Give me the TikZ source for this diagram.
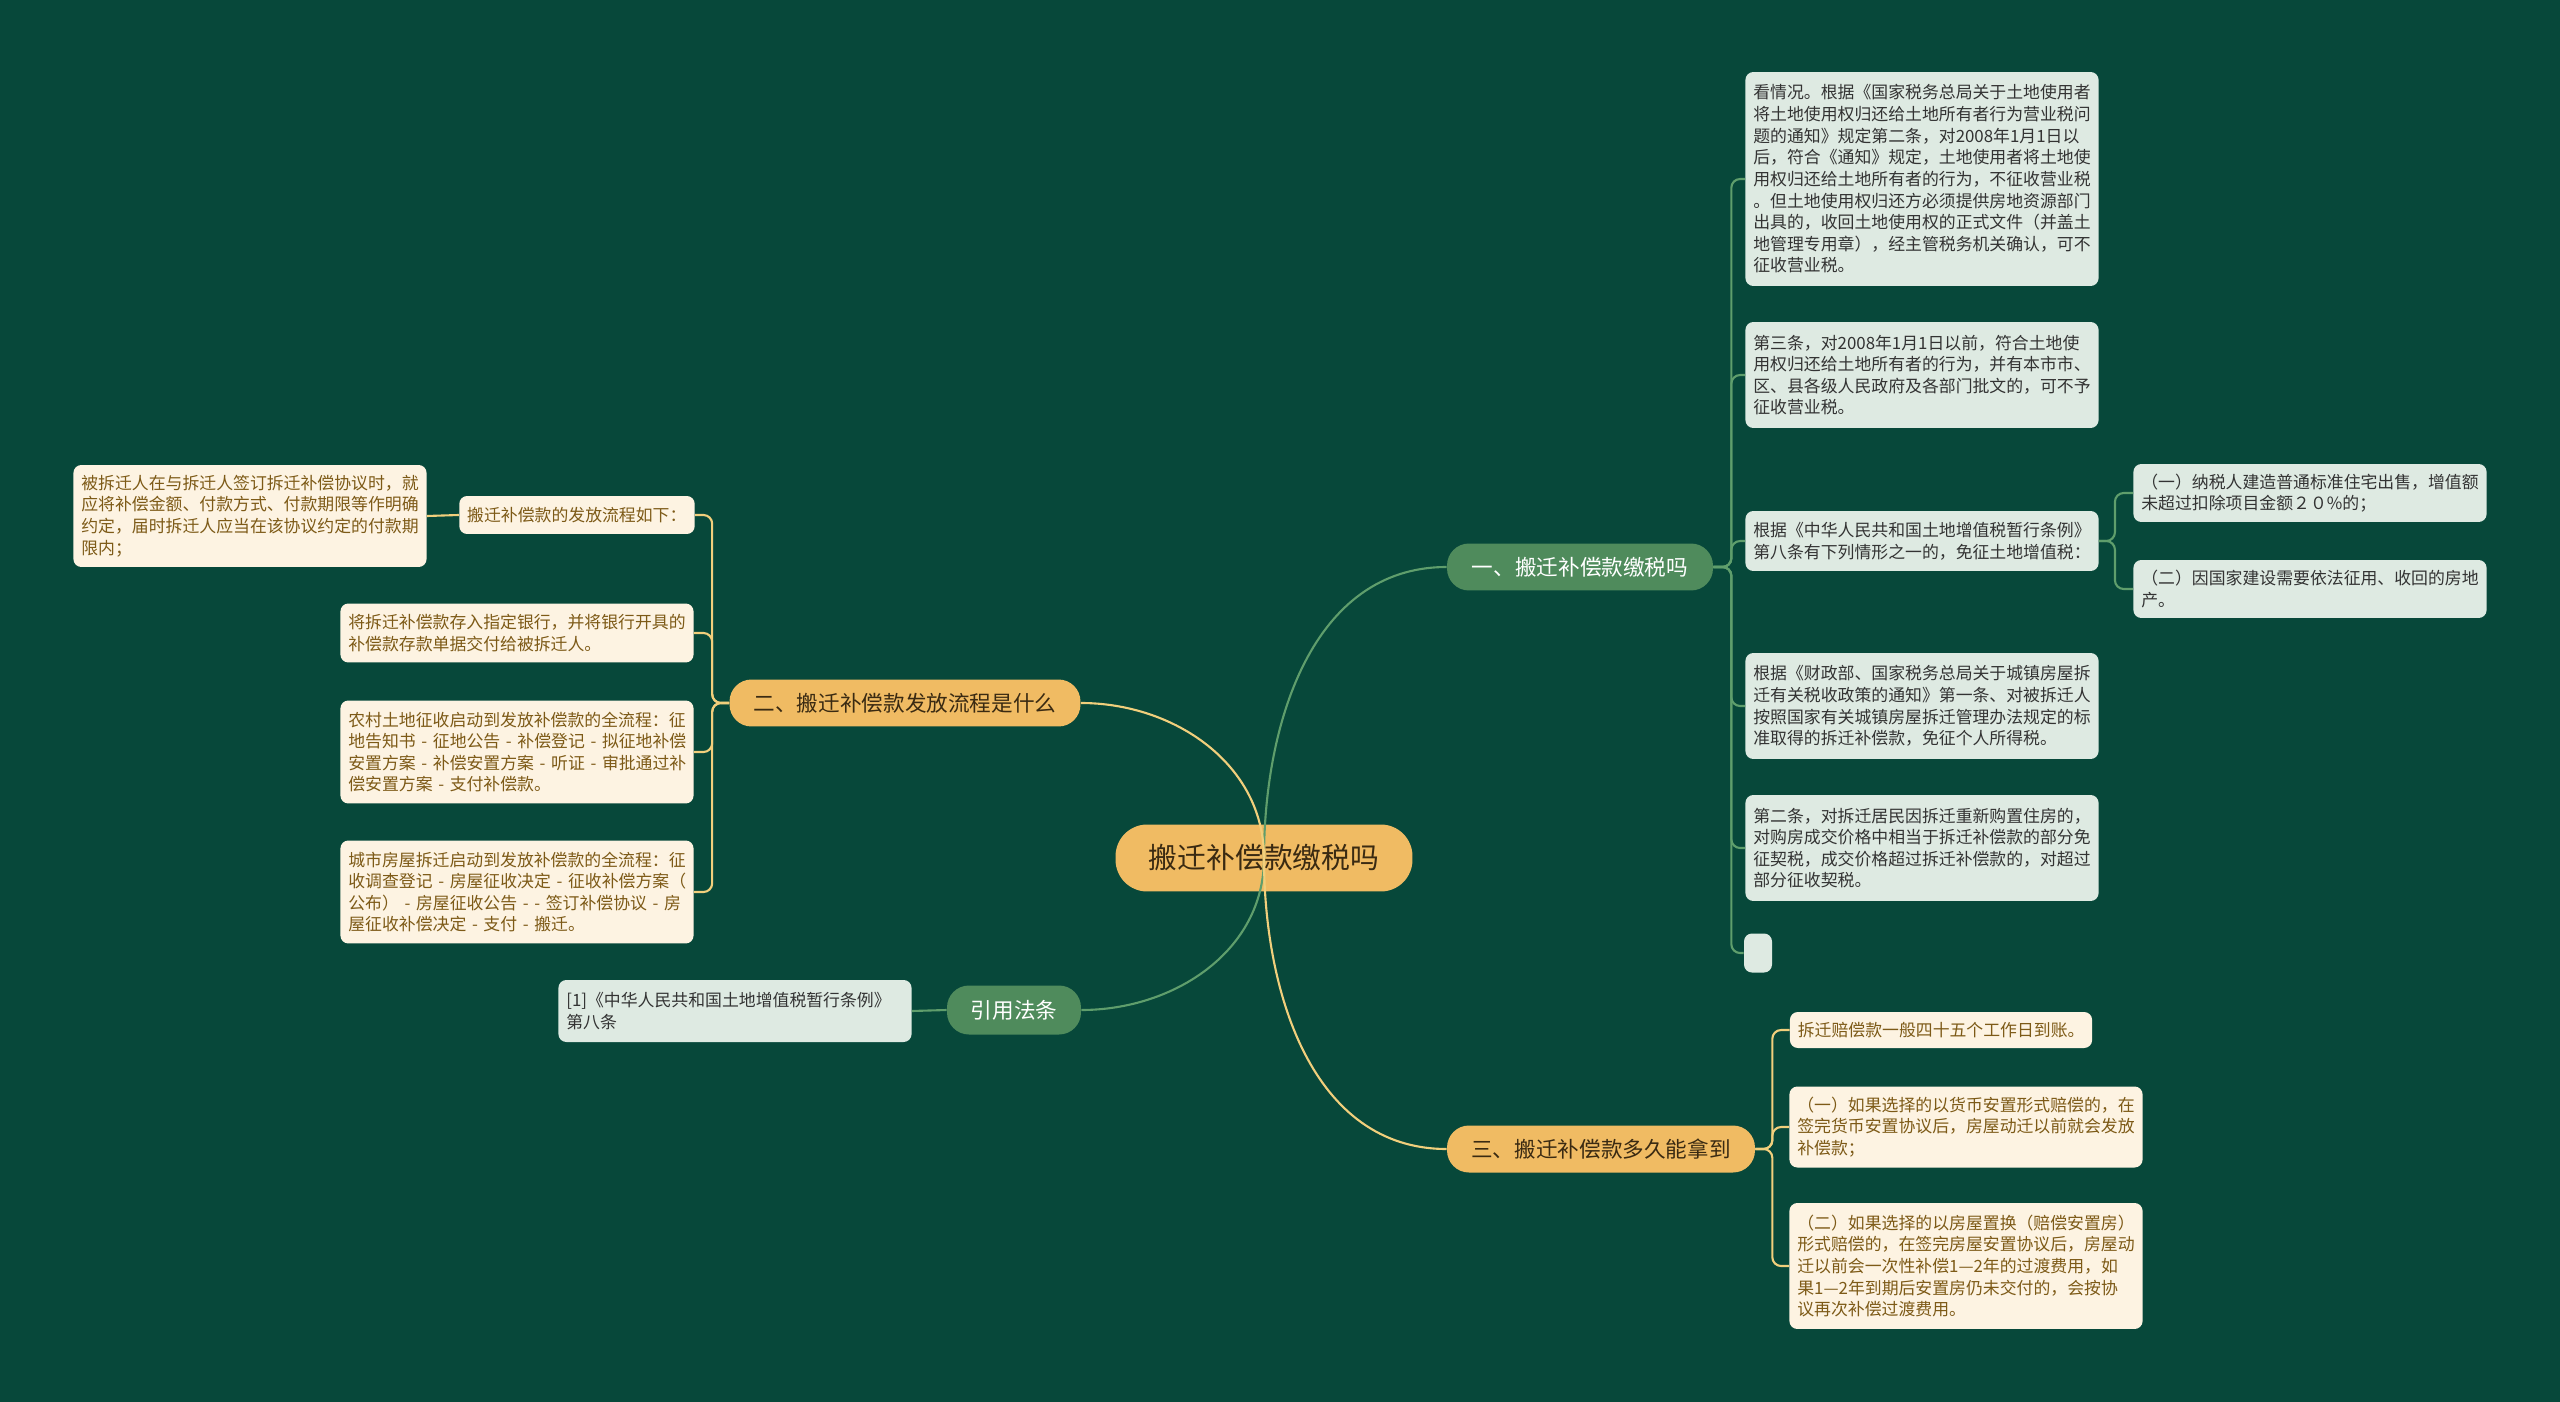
\documentclass[tikz,border=0pt]{standalone}
\usepackage{fontspec}
\setmainfont{Noto Sans CJK SC}
\usepackage{tikz}
\exhyphenpenalty=10000
\hyphenpenalty=10000
\definecolor{mapBg}{HTML}{07483A}
\definecolor{mapHub}{HTML}{F0BB63}
\definecolor{mapHubText}{HTML}{3A2A12}
\definecolor{mapGreen}{HTML}{4F8B5C}
\definecolor{mapGreenLine}{HTML}{5F9E6C}
\definecolor{mapGoldLine}{HTML}{F1CF7C}
\definecolor{mapLeafG}{HTML}{DEEAE2}
\definecolor{mapLeafY}{HTML}{FDF3E2}
\definecolor{mapTextG}{HTML}{333333}
\definecolor{mapTextY}{HTML}{7D5A17}

\begin{document}
\begin{tikzpicture}[x=0.02cm, y=-0.02cm,
  hub/.style={fill=mapHub, text=mapHubText, rounded corners=18pt, minimum width=5.94cm,
              minimum height=1.34cm, font=\fontsize{16.4}{19}\selectfont},
  gbranch/.style={fill=mapGreen, text=white, rounded corners=12.5pt, minimum height=0.94cm,
                  font=\fontsize{12.3}{14}\selectfont},
  ybranch/.style={gbranch, fill=mapHub, text=mapHubText},
  gleaf/.style={fill=mapLeafG, text=mapTextG, rounded corners=4.5pt, align=left,
                inner xsep=4.5pt, inner ysep=3pt, text width=192pt,
                font=\fontsize{9.6}{12.3}\selectfont},
  yleaf/.style={gleaf, fill=mapLeafY, text=mapTextY},
  stub/.style={fill=mapLeafG, rounded corners=4.5pt, inner sep=0pt},
  glink/.style={draw=mapGreenLine, line width=1.2pt, rounded corners=5pt},
  ylink/.style={draw=mapGoldLine, line width=1.2pt, rounded corners=5pt}
]
\fill[mapBg] (0,0) rectangle (2560,1402);
\useasboundingbox (0,0) rectangle (2560,1402);

% centre and main branches
\node[hub] (hub) at (1264,858) {搬迁补偿款缴税吗};
\node[gbranch, minimum width=5.32cm] (tax) at (1580,567) {一、搬迁补偿款缴税吗};
\node[ybranch, minimum width=7.02cm] (flow) at (905,703) {二、搬迁补偿款发放流程是什么};
\node[gbranch, minimum width=2.68cm, minimum height=0.98cm] (cite) at (1014,1010) {引用法条};
\node[ybranch, minimum width=6.16cm] (when) at (1601,1149) {三、搬迁补偿款多久能拿到};

% 一
\node[gleaf, minimum height=4.28cm] (taxA) at (1922,179) {看情况。根据《国家税务总局关于土地使用者\\将土地使用权归还给土地所有者行为营业税问\\题的通知》规定第二条，对2008年1月1日以\\后，符合《通知》规定，土地使用者将土地使\\用权归还给土地所有者的行为，不征收营业税\\。但土地使用权归还方必须提供房地资源部门\\出具的，收回土地使用权的正式文件（并盖土\\地管理专用章），经主管税务机关确认，可不\\征收营业税。};
\node[gleaf, minimum height=2.12cm] (taxB) at (1922,375) {第三条，对2008年1月1日以前，符合土地使\\用权归还给土地所有者的行为，并有本市市、\\区、县各级人民政府及各部门批文的，可不予\\征收营业税。};
\node[gleaf, minimum height=1.2cm] (taxC) at (1922,541) {根据《中华人民共和国土地增值税暂行条例》\\第八条有下列情形之一的，免征土地增值税：};
\node[gleaf, minimum height=2.12cm] (taxD) at (1922,706) {根据《财政部、国家税务总局关于城镇房屋拆\\迁有关税收政策的通知》第一条、对被拆迁人\\按照国家有关城镇房屋拆迁管理办法规定的标\\准取得的拆迁补偿款，免征个人所得税。};
\node[gleaf, minimum height=2.12cm] (taxE) at (1922,848) {第二条，对拆迁居民因拆迁重新购置住房的，\\对购房成交价格中相当于拆迁补偿款的部分免\\征契税，成交价格超过拆迁补偿款的，对超过\\部分征收契税。};
\node[stub, minimum width=0.56cm, minimum height=0.78cm] (taxF) at (1758,953) {};
\node[gleaf, minimum height=1.16cm] (taxC1) at (2310,493) {（一）纳税人建造普通标准住宅出售，增值额\\未超过扣除项目金额２０\%的；};
\node[gleaf, minimum height=1.16cm] (taxC2) at (2310,589) {（二）因国家建设需要依法征用、收回的房地\\产。};

% 二
\node[yleaf, text width=125pt, minimum height=0.76cm] (flowA) at (577,515) {搬迁补偿款的发放流程如下：};
\node[yleaf, minimum height=2.04cm] (flowA1) at (250,516) {被拆迁人在与拆迁人签订拆迁补偿协议时，就\\应将补偿金额、付款方式、付款期限等作明确\\约定，届时拆迁人应当在该协议约定的付款期\\限内；};
\node[yleaf, minimum height=1.18cm] (flowB) at (517,633) {将拆迁补偿款存入指定银行，并将银行开具的\\补偿款存款单据交付给被拆迁人。};
\node[yleaf, minimum height=2.06cm] (flowC) at (517,752) {农村土地征收启动到发放补偿款的全流程：征\\地告知书~-~征地公告~-~补偿登记~-~拟征地补偿\\安置方案~-~补偿安置方案~-~听证~-~审批通过补\\偿安置方案~-~支付补偿款。};
\node[yleaf, minimum height=2.06cm] (flowD) at (517,892) {城市房屋拆迁启动到发放补偿款的全流程：征\\收调查登记~-~房屋征收决定~-~征收补偿方案（\\公布）~-~房屋征收公告~-~-~签订补偿协议~-~房\\屋征收补偿决定~-~支付~-~搬迁。};

% 引用
\node[gleaf, minimum height=1.24cm] (citeA) at (735,1011) {[1]《中华人民共和国土地增值税暂行条例》\\第八条};

% 三
\node[yleaf, text width=163pt, minimum height=0.72cm] (whenA) at (1941,1030) {拆迁赔偿款一般四十五个工作日到账。};
\node[yleaf, minimum height=1.62cm] (whenB) at (1966,1127) {（一）如果选择的以货币安置形式赔偿的，在\\签完货币安置协议后，房屋动迁以前就会发放\\补偿款；};
\node[yleaf, minimum height=2.52cm] (whenC) at (1966,1266) {（二）如果选择的以房屋置换（赔偿安置房）\\形式赔偿的，在签完房屋安置协议后，房屋动\\迁以前会一次性补偿1—2年的过渡费用，如\\果1—2年到期后安置房仍未交付的，会按协\\议再次补偿过渡费用。};

% links from the centre
\draw[glink] (hub.center) to[out=90,in=180] (tax.west);
\draw[ylink] (hub.center) to[out=90,in=0] (flow.east);
\draw[glink] (hub.center) to[out=-90,in=0] (cite.east);
\draw[ylink] (hub.center) to[out=-90,in=180] (when.west);

% links to leaves
\foreach \leaf in {taxA,taxB,taxC,taxD,taxE,taxF}
  \draw[glink] (tax.east) -- ++(18,0) |- (\leaf.west);
\foreach \leaf in {taxC1,taxC2}
  \draw[glink] (taxC.east) -- ++(16,0) |- (\leaf.west);
\foreach \leaf in {flowA,flowB,flowC,flowD}
  \draw[ylink] (flow.west) -- ++(-17,0) |- (\leaf.east);
\draw[ylink] (flowA.west) -- (flowA1.east);
\draw[glink] (cite.west) -- (citeA.east);
\foreach \leaf in {whenA,whenB,whenC}
  \draw[ylink] (when.east) -- ++(17,0) |- (\leaf.west);
\end{tikzpicture}
\end{document}
